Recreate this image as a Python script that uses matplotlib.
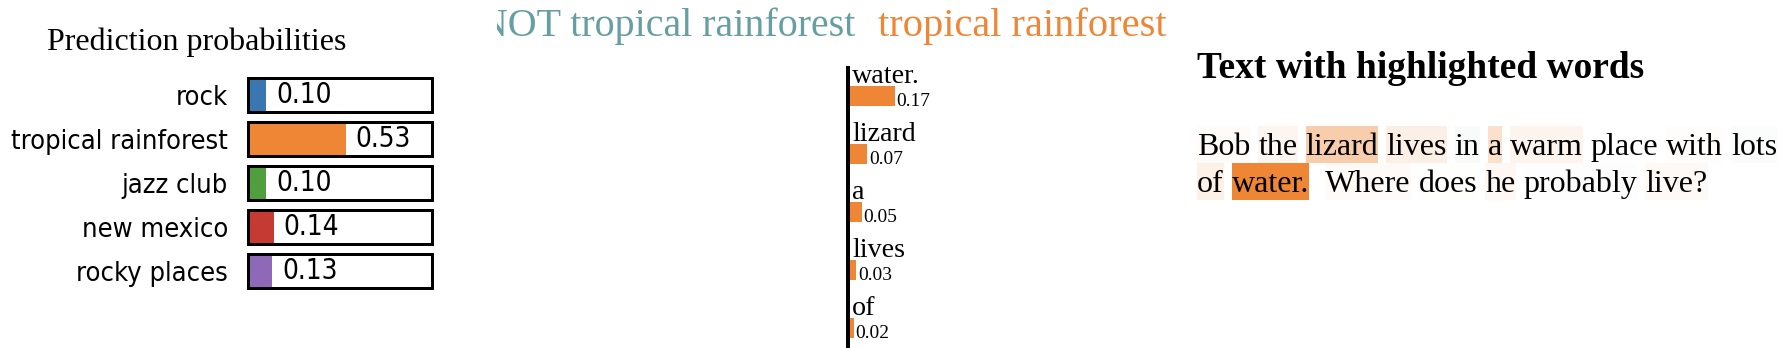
import matplotlib
matplotlib.use("Agg")
import matplotlib.pyplot as plt
from matplotlib.patches import Rectangle

# ---- data ----
classes = ["rock", "tropical rainforest", "jazz club", "new mexico", "rocky places"]
probs = [0.10, 0.53, 0.10, 0.14, 0.13]
class_colors = ["#3a76af", "#ef8636", "#519e3e", "#c53a32", "#8d69b8"]

feat_words = ["water.", "lizard", "a", "lives", "of"]
feat_weights = [0.17, 0.07, 0.05, 0.03, 0.02]

text_words = ["Bob", "the", "lizard", "lives", "in", "a", "warm", "place", "with", "lots",
              "of", "water.", "Where", "does", "he", "probably", "live?"]
text_weights = [0.005, 0.012, 0.07, 0.022, -0.006, 0.042, 0.015, 0.0, 0.002, -0.003,
                0.02, 0.17, 0.006, 0.001, 0.01, -0.002, 0.008]

pos_label = "tropical rainforest"
neg_label = "NOT tropical rainforest"

ORANGE = "#ef8636"
TEAL = "#5f9ea0"
SERIF = "Liberation Serif"

W, H = 1788, 348
fig = plt.figure(figsize=(W / 100, H / 100), dpi=100)
PT = 72 / 100  # points per pixel


def px_axes(x0, y0, x1, y1):
    return fig.add_axes([x0 / W, 1 - y1 / H, (x1 - x0) / W, (y1 - y0) / H])


# ---- prediction probabilities ----
fig.text(197 / W, 1 - 50 / H, "Prediction probabilities", family=SERIF,
         fontsize=32 * PT, ha="center", va="baseline")

ax1 = px_axes(248, 73, 432, 293)
ypos = list(range(len(classes)))
bh = 34 / 44
ax1.barh(ypos, probs, height=bh, color=class_colors, zorder=1)
ax1.barh(ypos, [1] * len(classes), height=bh, facecolor="none", edgecolor="black",
         linewidth=3 * PT, zorder=2, clip_on=False)
for i, p in enumerate(probs):
    ax1.annotate(f"{p:.2f}", (p, i), xytext=(10 * PT, 0), textcoords="offset points",
                 va="center", ha="left", fontsize=20, family="DejaVu Sans",
                 fontstretch="condensed")
ax1.set_xlim(0, 1)
ax1.set_ylim(len(classes) - 0.5, -0.5)
ax1.set_yticks(ypos)
ax1.set_yticklabels(classes, fontsize=19.5, family="DejaVu Sans", fontstretch="condensed")
ax1.tick_params(axis="y", length=0, pad=20 * PT)
ax1.set_xticks([])
for s in ax1.spines.values():
    s.set_visible(False)

# ---- header of the explanation ----
axh = px_axes(497, 0, 1180, 60)
axh.set_xlim(497, 1180)
axh.set_ylim(60, 0)
axh.axis("off")
axh.text(855, 36, neg_label, color="#669fa1", family=SERIF, fontsize=40 * PT,
         ha="right", va="baseline", clip_on=True)
axh.text(878, 36, pos_label, color=ORANGE, family=SERIF, fontsize=40.5 * PT,
         ha="left", va="baseline", clip_on=True)

# ---- feature weights ----
ax2 = px_axes(848, 68, 848 + 276, 348)
fy = list(range(len(feat_words)))
ax2.barh(fy, feat_weights, height=20 / 58, color=ORANGE)
for i, (wd, wt) in enumerate(zip(feat_words, feat_weights)):
    ax2.annotate(wd, (0, i), xytext=(4 * PT, 13 * PT), textcoords="offset points",
                 va="baseline", ha="left", family=SERIF, fontsize=28 * PT)
    ax2.annotate(f"{wt:.2f}", (wt, i), xytext=(1.5 * PT, -10 * PT), textcoords="offset points",
                 va="baseline", ha="left", family=SERIF, fontsize=19.4 * PT)
ax2.set_xlim(0, 1)
ax2.set_ylim(4 + 20 / 58, -28 / 58)
ax2.set_xticks([])
ax2.set_yticks([])
for k in ["top", "right", "bottom"]:
    ax2.spines[k].set_visible(False)
ax2.spines["left"].set_linewidth(4 * PT)

# ---- text with highlighted words ----
ax3 = px_axes(1180, 0, W, H)
ax3.set_xlim(1180, W)
ax3.set_ylim(H, 0)
ax3.axis("off")
ax3.text(1197, 78, "Text with highlighted words", family=SERIF, fontweight="bold",
         fontsize=37.4 * PT, va="baseline", ha="left")

renderer = fig.canvas.get_renderer()
em = 32
space = 0.25 * em
x0, right = 1197, 1786
baseline, line_h = 155, 37
x = x0
max_w = max(abs(v) for v in text_weights)
for wd, wt in zip(text_words, text_weights):
    t = ax3.text(x, baseline, wd, family=SERIF, fontsize=em * PT, va="baseline",
                 ha="left", zorder=3)
    w = t.get_window_extent(renderer).width
    if x + w > right and x > x0:
        x = x0
        baseline += line_h
        t.set_position((x, baseline))
    if abs(wt) > 0:
        c = ORANGE if wt > 0 else TEAL
        ax3.add_patch(Rectangle((x, baseline - 29), w, line_h, facecolor=c,
                                alpha=abs(wt) / max_w, edgecolor="none", zorder=1))
    x += w + (2 * space if wd.endswith(".") else space)

fig.savefig("out.png", dpi=100)
